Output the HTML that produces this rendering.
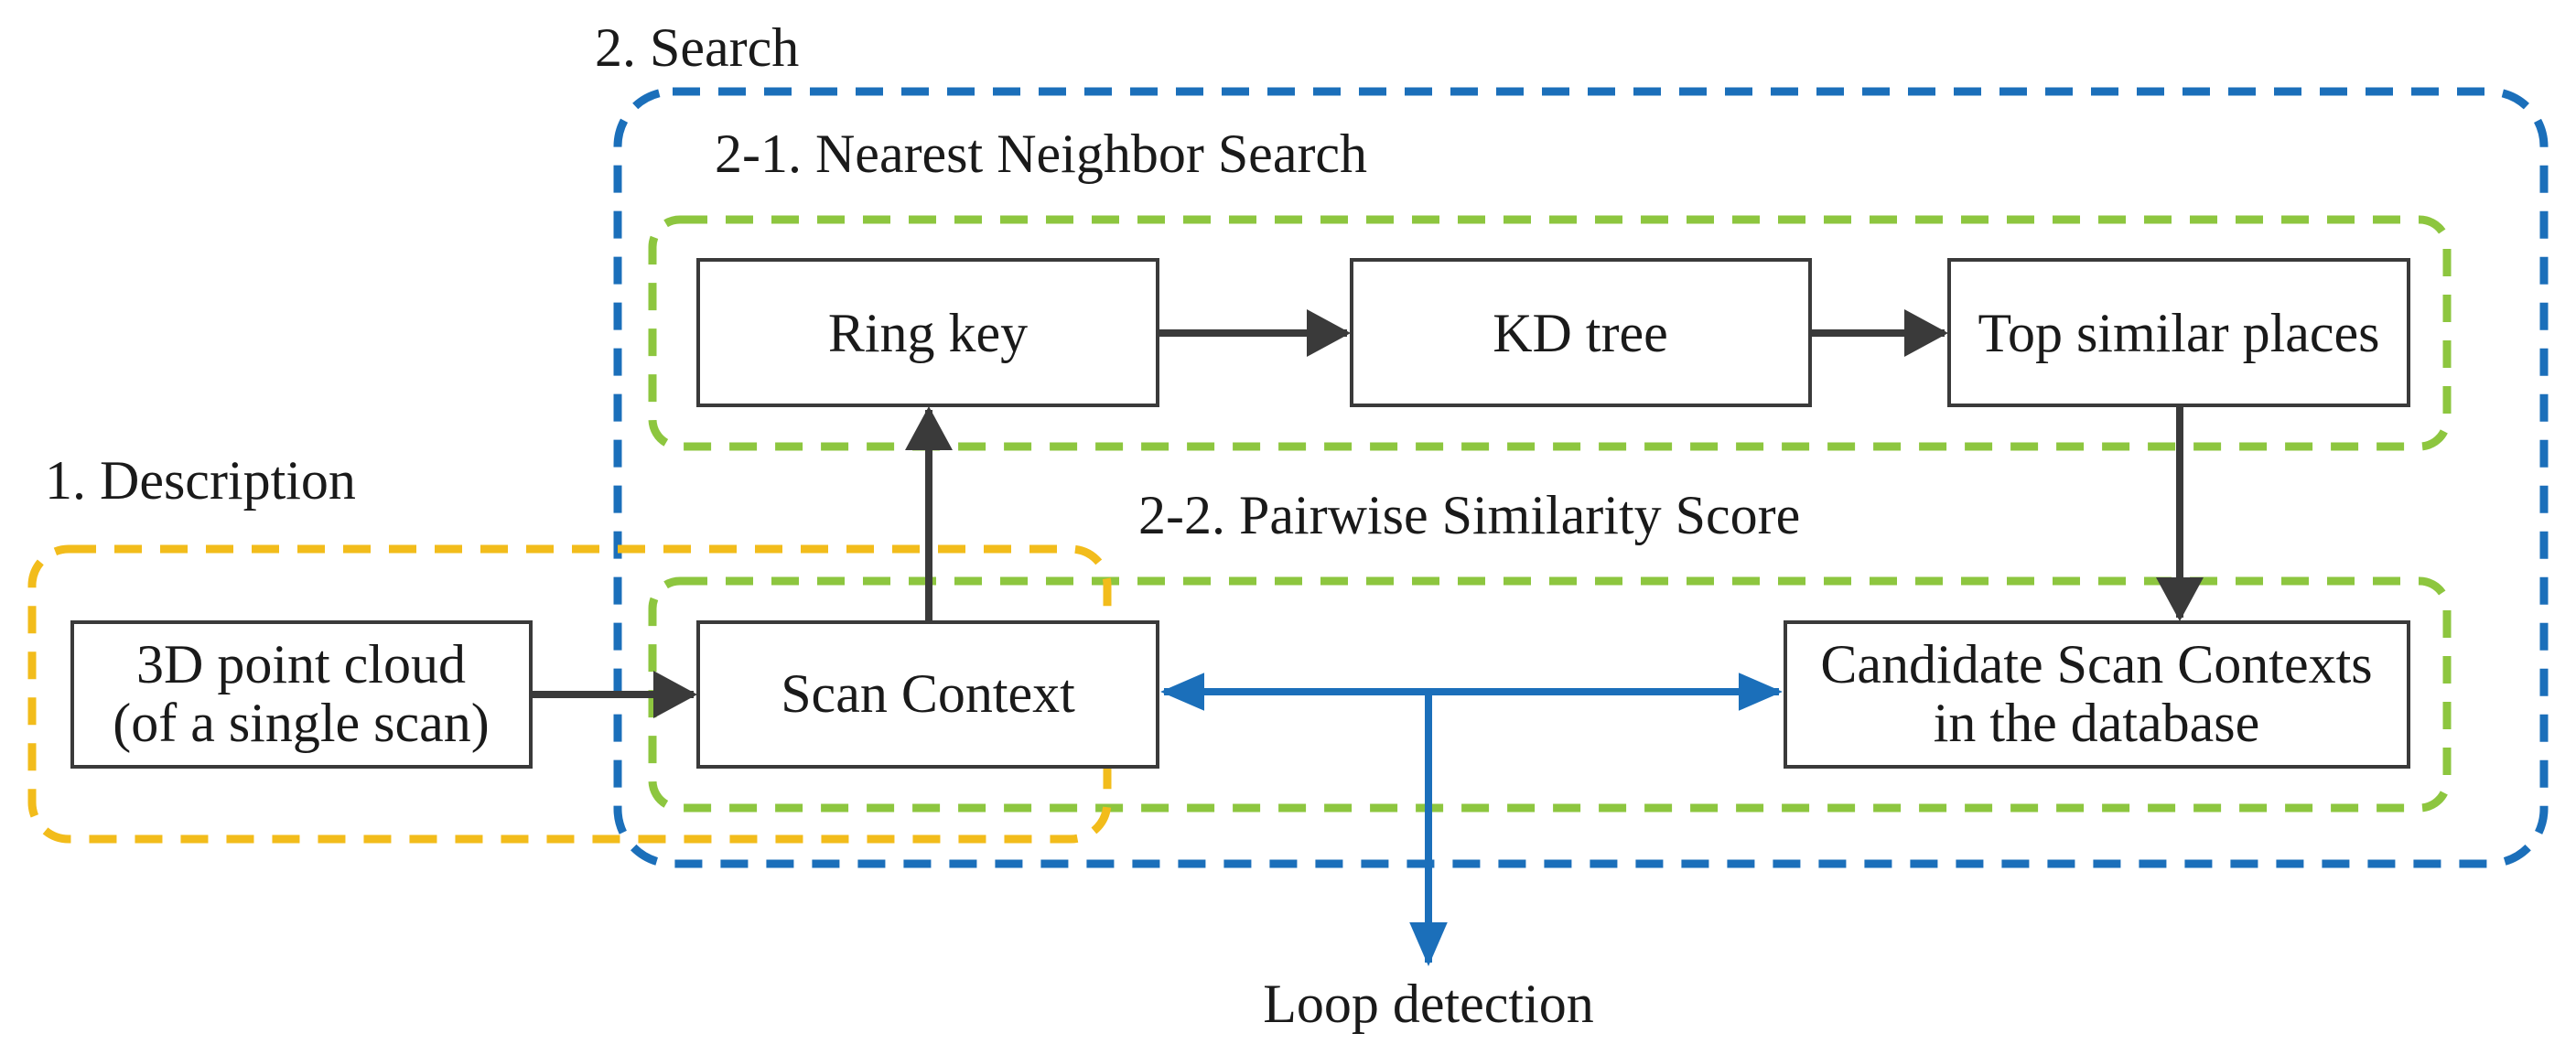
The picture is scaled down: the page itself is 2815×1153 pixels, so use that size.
<!DOCTYPE html>
<html><head><meta charset="utf-8"><style>
html,body{margin:0;padding:0;background:#fff;}
svg{display:block;}
text{font-family:"Liberation Serif",serif;fill:#1a1a1a;}
</style></head><body>
<svg width="2815" height="1153" viewBox="0 0 2815 1153" xmlns="http://www.w3.org/2000/svg">
<defs>
<marker id="ad" markerWidth="7" markerHeight="7" refX="5.5" refY="3.25" orient="auto" markerUnits="strokeWidth"><path d="M0,0 L6,3.25 L0,6.5 z" fill="#3a3a3a"/></marker>
<marker id="ab" markerWidth="7" markerHeight="6" refX="5.5" refY="2.6" orient="auto-start-reverse" markerUnits="strokeWidth"><path d="M0,0 L6,2.6 L0,5.2 z" fill="#1b6fba"/></marker>
</defs>
<rect x="675" y="100" width="2105" height="844" rx="60" fill="none" stroke="#1b6fba" stroke-width="9" stroke-dasharray="30,20"/>
<rect x="713" y="240" width="1961" height="248" rx="30" fill="none" stroke="#8dc63f" stroke-width="9" stroke-dasharray="30,20"/>
<rect x="713" y="635" width="1961" height="248" rx="30" fill="none" stroke="#8dc63f" stroke-width="9" stroke-dasharray="30,20"/>
<rect x="35" y="600" width="1175" height="317" rx="40" fill="none" stroke="#f2bc1b" stroke-width="9" stroke-dasharray="30,20"/>
<g fill="#fff" stroke="#3a3a3a" stroke-width="4">
<rect x="763" y="284" width="502" height="159"/>
<rect x="1477" y="284" width="501" height="159"/>
<rect x="2130" y="284" width="502" height="159"/>
<rect x="79" y="680" width="501" height="158"/>
<rect x="763" y="680" width="502" height="158"/>
<rect x="1951" y="680" width="681" height="158"/>
</g>
<g stroke="#3a3a3a" stroke-width="8" fill="none">
<line x1="1265" y1="364" x2="1472" y2="364" marker-end="url(#ad)"/>
<line x1="1978" y1="364" x2="2125" y2="364" marker-end="url(#ad)"/>
<line x1="2382" y1="443" x2="2382" y2="675" marker-end="url(#ad)"/>
<line x1="1015" y1="680" x2="1015" y2="448" marker-end="url(#ad)"/>
<line x1="580" y1="759" x2="758" y2="759" marker-end="url(#ad)"/>
</g>
<g stroke="#1b6fba" stroke-width="8" fill="none">
<line x1="1272" y1="756" x2="1944" y2="756" marker-start="url(#ab)" marker-end="url(#ab)"/>
<line x1="1561" y1="756" x2="1561" y2="1052" marker-end="url(#ab)"/>
</g>
<g font-size="60">
<text x="650" y="72">2. Search</text>
<text x="781" y="188">2-1. Nearest Neighbor Search</text>
<text x="49" y="545">1. Description</text>
<text x="1244" y="583">2-2. Pairwise Similarity Score</text>
<text x="1014" y="384" text-anchor="middle">Ring key</text>
<text x="1727" y="384" text-anchor="middle">KD tree</text>
<text x="2381" y="384" text-anchor="middle">Top similar places</text>
<text x="329" y="746" text-anchor="middle">3D point cloud</text>
<text x="329" y="810" text-anchor="middle">(of a single scan)</text>
<text x="1014" y="778" text-anchor="middle">Scan Context</text>
<text x="2291" y="746" text-anchor="middle">Candidate Scan Contexts</text>
<text x="2291" y="810" text-anchor="middle">in the database</text>
<text x="1561" y="1117" text-anchor="middle">Loop detection</text>
</g>
</svg>
</body></html>
